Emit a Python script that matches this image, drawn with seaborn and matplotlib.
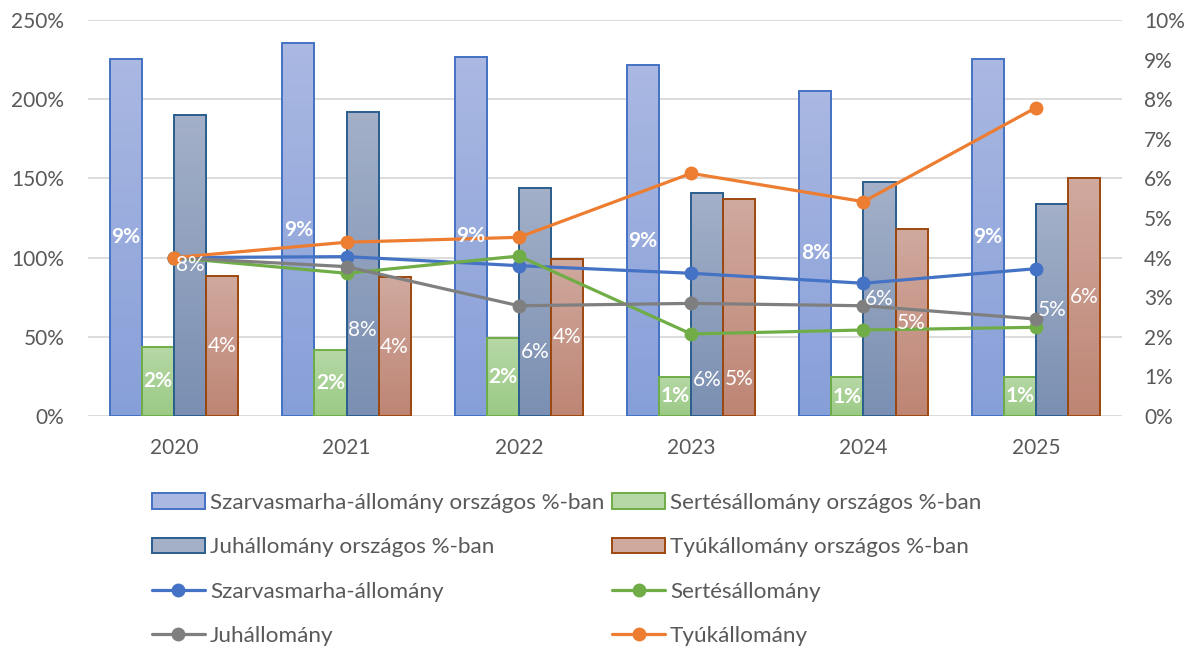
import numpy as np
import pandas as pd
import seaborn as sns
import matplotlib.pyplot as plt
from matplotlib.colors import LinearSegmentedColormap
from matplotlib.patches import Patch
from matplotlib.lines import Line2D
from matplotlib.ticker import MultipleLocator, FuncFormatter

years = ['2020', '2021', '2022', '2023', '2024', '2025']

# országos részesedés (%) - jobb tengely, oszlopok
szarvas_share = [9.02, 9.41, 9.07, 8.86, 8.21, 9.02]
sertes_share = [1.75, 1.67, 1.98, 0.99, 0.98, 0.99]
juh_share = [7.61, 7.68, 5.77, 5.64, 5.90, 5.35]
tyuk_share = [3.54, 3.51, 3.97, 5.47, 4.71, 6.00]

# állomány 2020-hoz képest (%) - bal tengely, vonalak
szarvas_idx = [100, 100.6, 94.9, 90.1, 83.8, 93.0]
sertes_idx = [100, 90.1, 101.0, 51.8, 54.3, 56.0]
juh_idx = [100, 94.3, 69.6, 71.1, 69.6, 61.2]
tyuk_idx = [100, 109.7, 112.8, 153.2, 135.3, 194.6]

bar_names = ['Szarvasmarha-állomány országos %-ban', 'Sertésállomány országos %-ban',
             'Juhállomány országos %-ban', 'Tyúkállomány országos %-ban']
line_names = ['Szarvasmarha-állomány', 'Sertésállomány', 'Juhállomány', 'Tyúkállomány']

shares = [szarvas_share, sertes_share, juh_share, tyuk_share]
indices = [szarvas_idx, sertes_idx, juh_idx, tyuk_idx]

# (top, bottom, edge) for the gradient bars
bar_colors = [('#AAB8E2', '#879FD8', '#4472C4'),
              ('#B6D8A6', '#9BCA85', '#70AD47'),
              ('#A3B0C8', '#7A8FB2', '#2A5E8E'),
              ('#D0A99E', '#BE8574', '#9E480E')]
line_colors = ['#4472C4', '#70AD47', '#7F7F7F', '#ED7D31']
label_bold = [True, True, False, False]

df = pd.DataFrame({
    'ev': years * 4,
    'sorozat': [n for n in bar_names for _ in years],
    'ertek': [v for s in shares for v in s],
})

sns.set_style('white')
plt.rcParams['font.family'] = ['Lato', 'DejaVu Sans']
grey = '#595959'

fig = plt.figure(figsize=(11.94, 6.48), dpi=100)
ax = fig.add_axes([88 / 1194, 1 - 416 / 648, 1034 / 1194, 396 / 648])
ax2 = ax.twinx()
ax.set_zorder(ax2.get_zorder() + 1)
ax.patch.set_visible(False)

group_w = 0.744
sns.barplot(data=df, x='ev', y='ertek', hue='sorozat', hue_order=bar_names,
            palette=[c[1] for c in bar_colors], width=group_w, gap=0, saturation=1,
            linewidth=1.4, ax=ax2, legend=False, err_kws={'linewidth': 0})

# gradient fill inside each bar
w = group_w / 4
grad = np.linspace(0, 1, 64).reshape(-1, 1)
for p in list(ax2.patches):
    xc = p.get_x() + p.get_width() / 2
    i = int(round((xc - round(xc)) / w + 1.5))
    top_c, bot_c, edge_c = bar_colors[i]
    cmap = LinearSegmentedColormap.from_list('g%d' % i, [bot_c, top_c])
    im = ax2.imshow(grad, extent=[p.get_x(), p.get_x() + p.get_width(), 0, p.get_height()],
                    origin='lower', cmap=cmap, aspect='auto', zorder=1)
    im.set_clip_path(p)
    p.set_facecolor('none')
    p.set_edgecolor(edge_c)
    p.set_zorder(2)

x = np.arange(len(years))
for vals, col, name in zip(indices, line_colors, line_names):
    sns.lineplot(x=x, y=vals, ax=ax, color=col, linewidth=2.3, marker='o',
                 markersize=10, markeredgewidth=0, label=name, legend=False)

# data labels (a few were moved by hand in the original)
moved = {(2, 1): 2.17, (2, 2): 1.62, (2, 3): 0.91, (3, 3): 0.93}
for i, s in enumerate(shares):
    for j, v in enumerate(s):
        xc = j + (i - 1.5) * w
        yc = moved.get((i, j), v / 2)
        ax.text(xc, yc, '%.0f%%' % v, transform=ax2.transData, ha='center', va='center',
                color='white', fontsize=15, fontweight='bold' if label_bold[i] else 'normal',
                zorder=10)

ax.set_xlim(-0.5, len(years) - 0.5)
ax2.set_xlim(-0.5, len(years) - 0.5)
ax.set_ylim(0, 250)
ax2.set_ylim(0, 10)
ax.set_xticks(x, years)
ax.set_xlabel('')
ax.set_ylabel('')
ax2.set_ylabel('')

ax.yaxis.set_major_locator(MultipleLocator(50))
ax.yaxis.set_major_formatter(FuncFormatter(lambda v, _: '%d%%' % v))
ax2.yaxis.set_major_locator(MultipleLocator(1))
ax2.yaxis.set_major_formatter(FuncFormatter(lambda v, _: '%d%%' % v))

# gridlines only at every second right-axis step (= left axis ticks), behind bars
ax2.yaxis.set_minor_locator(MultipleLocator(2))
ax2.yaxis.remove_overlapping_locs = False
ax2.grid(True, which='minor', axis='y', color='#D9D9D9', linewidth=1.3)
ax2.grid(False, which='major')
ax.grid(False)

ax.tick_params(axis='y', length=0, labelsize=15, labelcolor=grey, pad=17)
ax.tick_params(axis='x', length=0, labelsize=15, labelcolor=grey, pad=16)
ax2.tick_params(axis='y', which='both', length=0, labelsize=15, labelcolor=grey, pad=16)
for a in (ax, ax2):
    for sp in a.spines.values():
        sp.set_visible(False)

bar_handles = [Patch(facecolor=c[0], edgecolor=c[2], linewidth=1.4) for c in bar_colors]
line_handles = [Line2D([], [], color=c, linewidth=2.3, marker='o', markersize=10,
                       markeredgewidth=0) for c in line_colors]
handles = [bar_handles[0], bar_handles[2], line_handles[0], line_handles[2],
           bar_handles[1], bar_handles[3], line_handles[1], line_handles[3]]
labels = [bar_names[0], bar_names[2], line_names[0], line_names[2],
          bar_names[1], bar_names[3], line_names[1], line_names[3]]
fig.legend(handles, labels, ncol=2, loc='upper left', bbox_to_anchor=(152 / 1194, 1 - 493 / 648),
           frameon=False, fontsize=16.2, labelcolor=grey, handlelength=2.35, handleheight=0.7,
           handletextpad=0.22, columnspacing=0.35, labelspacing=1.08, borderpad=0, borderaxespad=0)

fig.savefig('out.png', dpi=100)
